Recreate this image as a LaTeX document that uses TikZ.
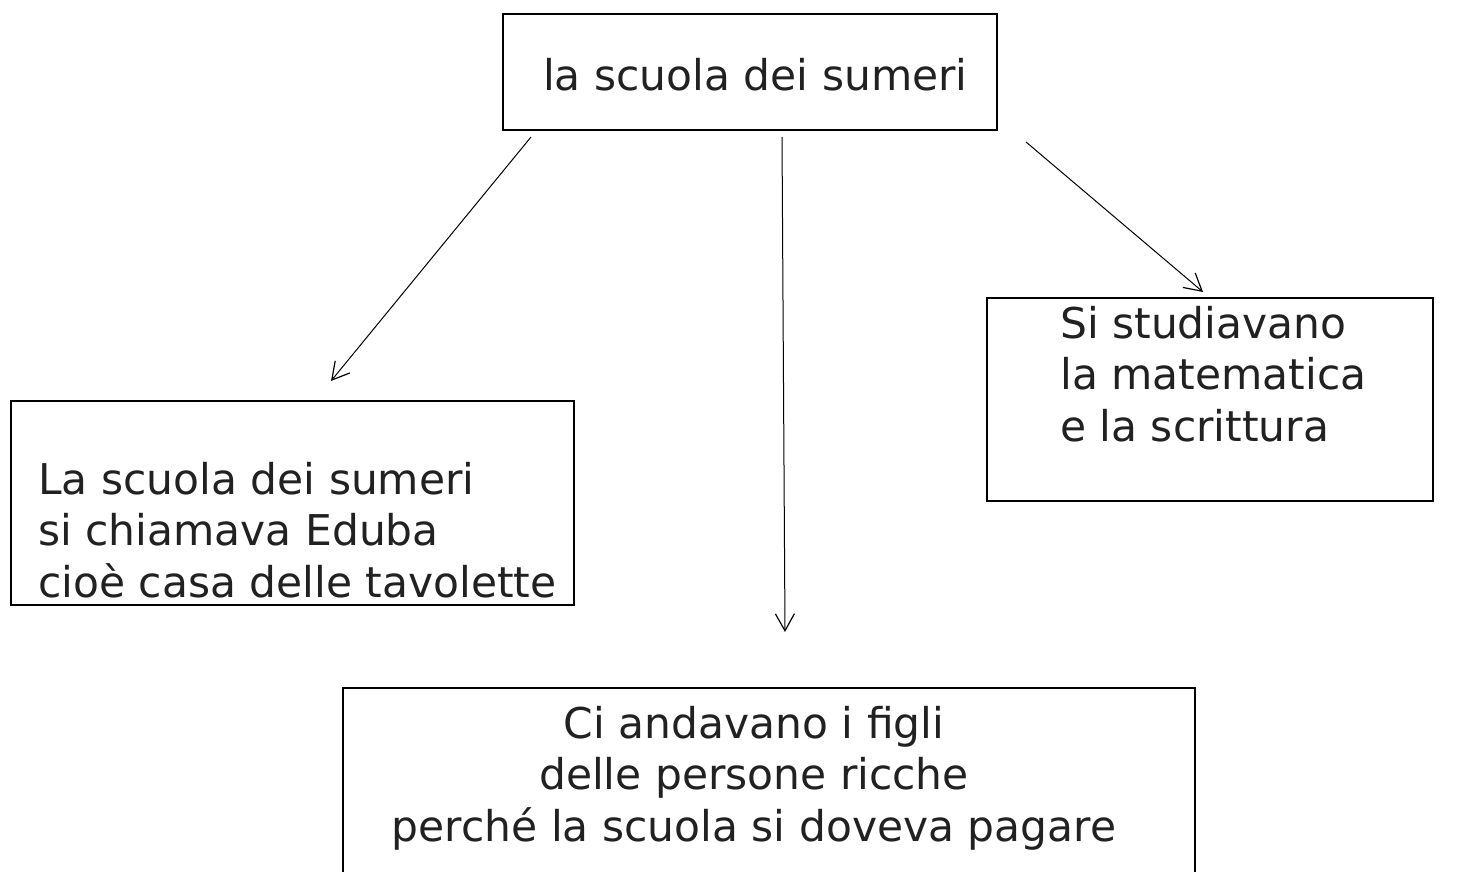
\documentclass[tikz,border=0pt]{standalone}
\usepackage{fontspec}
\setmainfont{DejaVu Sans}
\usetikzlibrary{arrows.meta}
\begin{document}
\begin{tikzpicture}[x=1pt,y=-1pt,
  box/.style={draw=black, line width=2.4pt, inner sep=0pt, anchor=north west},
  txt/.style={font=\fontsize{42.4}{51.5}\selectfont, text=black!87, inner sep=0pt},
  arr/.style={line width=1pt, -{Straight Barb[length=17pt,width=19pt,line width=1.2pt]}}]
\useasboundingbox (0,0) rectangle (1469,872);
\fill[white] (0,0) rectangle (1469,872);
% boxes
\node[box, minimum width=494pt, minimum height=116pt] (top) at (502,13) {};
\node[box, minimum width=563pt, minimum height=204pt] (left) at (10,400) {};
\node[box, minimum width=446pt, minimum height=203pt] (right) at (986,297) {};
\node[box, minimum width=852pt, minimum height=190pt] (bottom) at (342,687) {};
% texts
\node[txt, anchor=base west] (toptext) at (543,91) {la scuola dei sumeri};
\node[txt, anchor=base west, align=left] (lefttext) at (38,597) {La scuola dei sumeri\\si chiamava Eduba\\cioè casa delle tavolette};
\node[txt, anchor=base west, align=left] (righttext) at (1060,441) {Si studiavano\\la matematica\\e la scrittura};
\node[txt, anchor=base, align=center] (bottomtext) at (754,841) {Ci andavano i figli\\delle persone ricche\\perché la scuola si doveva pagare};
% connector ends
\coordinate (a1) at (531,137);
\coordinate (a2) at (331,381);
\coordinate (b1) at (782,137);
\coordinate (b2) at (785,632);
\coordinate (c1) at (1026,142);
\coordinate (c2) at (1203,292);
\draw[arr] (a1) -- (a2);
\draw[arr] (b1) -- (b2);
\draw[arr] (c1) -- (c2);
\end{tikzpicture}
\end{document}
